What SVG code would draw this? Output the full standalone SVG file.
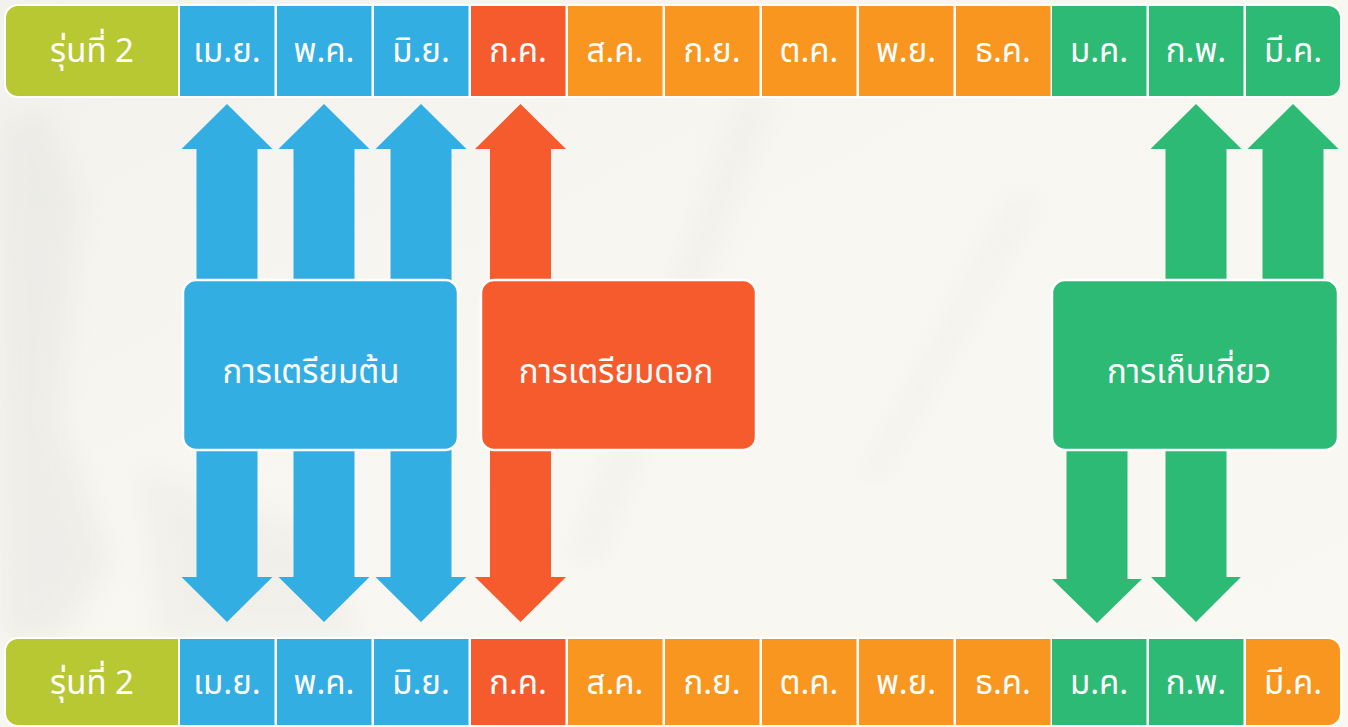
<svg xmlns="http://www.w3.org/2000/svg" width="1348" height="727" viewBox="0 0 1348 727">
  <style>
    .lbl { font-family: "Noto Sans Thai", "Noto Sans", "DejaVu Sans", sans-serif; fill: #ffffff; text-anchor: middle; font-weight: normal; }
    .m { font-size: 33px; }
    .b { font-size: 33px; }
    .olive { fill: #B8C833; }
    .blue { fill: #33AEE3; }
    .red { fill: #F55B2D; }
    .orange { fill: #F8961F; }
    .green { fill: #2DBA74; }
    .box { stroke: #ffffff; stroke-width: 2.5; }
  </style>
  <defs>
    <clipPath id="topClip"><rect x="6" y="6" width="1334" height="90" rx="12"/></clipPath>
    <clipPath id="botClip"><rect x="6" y="639" width="1334" height="86" rx="12"/></clipPath>
    <filter id="blur" x="-50%" y="-50%" width="200%" height="200%"><feGaussianBlur stdDeviation="12"/></filter>
    <linearGradient id="bg" x1="0" y1="0" x2="1" y2="1">
      <stop offset="0" stop-color="#F2F1ED"/>
      <stop offset="0.4" stop-color="#F8F6F1"/>
      <stop offset="1" stop-color="#FAF8F3"/>
    </linearGradient>
  </defs>

  <!-- background -->
  <rect x="0" y="0" width="1348" height="727" fill="url(#bg)"/>
  <g filter="url(#blur)" opacity="0.4">
    <path d="M0 120 L50 110 L80 200 L60 420 L110 560 L60 640 L0 640 Z" fill="#E2E2DE"/>
    <path d="M140 470 L320 530 L360 640 L160 640 Z" fill="#E6E7E1"/>
    <path d="M740 90 L780 90 L600 560 L570 560 Z" fill="#ECEAE5"/>
    <path d="M1010 200 L1040 200 L880 480 L860 480 Z" fill="#ECEAE5"/>
  </g>

  <!-- connectors -->
  <g id="connectors">
    <polygon class="blue" points="227,104 272.5,149 257.5,149 257.5,282 196.5,282 196.5,149 181.5,149"/>
    <polygon class="blue" points="324,104 369.5,149 354.5,149 354.5,282 293.5,282 293.5,149 278.5,149"/>
    <polygon class="blue" points="421,104 466.5,149 451.5,149 451.5,282 390.5,282 390.5,149 375.5,149"/>
    <polygon class="red" points="520.5,104 566,149 551,149 551,282 490,282 490,149 475,149"/>
    <polygon class="green" points="1196,104 1241.5,149 1226.5,149 1226.5,282 1165.5,282 1165.5,149 1150.5,149"/>
    <polygon class="green" points="1293,104 1338.5,149 1323.5,149 1323.5,282 1262.5,282 1262.5,149 1247.5,149"/>
    <polygon class="blue" points="196.5,448 257.5,448 257.5,577 272.5,577 227,622 181.5,577 196.5,577"/>
    <polygon class="blue" points="293.5,448 354.5,448 354.5,577 369.5,577 324,622 278.5,577 293.5,577"/>
    <polygon class="blue" points="390.5,448 451.5,448 451.5,577 466.5,577 421,622 375.5,577 390.5,577"/>
    <polygon class="red" points="490,448 551,448 551,577 566,577 520.5,622 475,577 490,577"/>
    <polygon class="green" points="1066.5,448 1127.5,448 1127.5,579 1142,579 1097,623 1052,579 1066.5,579"/>
    <polygon class="green" points="1165.5,448 1226.5,448 1226.5,577 1241,577 1196,622 1151,577 1165.5,577"/>
  </g>

  <!-- top bar -->
  <g id="top-bar">
    <rect x="4" y="4" width="1338" height="94" rx="14" fill="#ffffff"/>
    <g clip-path="url(#topClip)">
      <rect class="olive" x="6" y="6" width="172" height="90"/>
      <rect class="blue" x="180" y="6" width="94.5" height="90"/>
      <rect class="blue" x="277" y="6" width="94.5" height="90"/>
      <rect class="blue" x="374" y="6" width="94.5" height="90"/>
      <rect class="red" x="471" y="6" width="94.5" height="90"/>
      <rect class="orange" x="568" y="6" width="94.5" height="90"/>
      <rect class="orange" x="665" y="6" width="94.5" height="90"/>
      <rect class="orange" x="762" y="6" width="94.5" height="90"/>
      <rect class="orange" x="859" y="6" width="94.5" height="90"/>
      <rect class="orange" x="956" y="6" width="94.5" height="90"/>
      <rect class="green" x="1052" y="6" width="94.5" height="90"/>
      <rect class="green" x="1149" y="6" width="94.5" height="90"/>
      <rect class="green" x="1246" y="6" width="96" height="90"/>
    </g>
    <g class="lbl m">
      <text x="92" y="62">รุ่นที่ 2</text>
      <text x="227" y="62">เม.ย.</text>
      <text x="324" y="62">พ.ค.</text>
      <text x="421" y="62">มิ.ย.</text>
      <text x="518" y="62">ก.ค.</text>
      <text x="615" y="62">ส.ค.</text>
      <text x="712" y="62">ก.ย.</text>
      <text x="809" y="62">ต.ค.</text>
      <text x="906" y="62">พ.ย.</text>
      <text x="1003" y="62">ธ.ค.</text>
      <text x="1099" y="62">ม.ค.</text>
      <text x="1196" y="62">ก.พ.</text>
      <text x="1293" y="62">มี.ค.</text>
    </g>
  </g>

  <!-- bottom bar -->
  <g id="bottom-bar">
    <rect x="4" y="637" width="1338" height="90" rx="14" fill="#ffffff"/>
    <g clip-path="url(#botClip)">
      <rect class="olive" x="6" y="639" width="172" height="86"/>
      <rect class="blue" x="180" y="639" width="94.5" height="86"/>
      <rect class="blue" x="277" y="639" width="94.5" height="86"/>
      <rect class="blue" x="374" y="639" width="94.5" height="86"/>
      <rect class="red" x="471" y="639" width="94.5" height="86"/>
      <rect class="orange" x="568" y="639" width="94.5" height="86"/>
      <rect class="orange" x="665" y="639" width="94.5" height="86"/>
      <rect class="orange" x="762" y="639" width="94.5" height="86"/>
      <rect class="orange" x="859" y="639" width="94.5" height="86"/>
      <rect class="orange" x="956" y="639" width="94.5" height="86"/>
      <rect class="green" x="1052" y="639" width="94.5" height="86"/>
      <rect class="green" x="1149" y="639" width="94.5" height="86"/>
      <rect class="orange" x="1246" y="639" width="96" height="86"/>
    </g>
    <g class="lbl m">
      <text x="92" y="694">รุ่นที่ 2</text>
      <text x="227" y="694">เม.ย.</text>
      <text x="324" y="694">พ.ค.</text>
      <text x="421" y="694">มิ.ย.</text>
      <text x="518" y="694">ก.ค.</text>
      <text x="615" y="694">ส.ค.</text>
      <text x="712" y="694">ก.ย.</text>
      <text x="809" y="694">ต.ค.</text>
      <text x="906" y="694">พ.ย.</text>
      <text x="1003" y="694">ธ.ค.</text>
      <text x="1099" y="694">ม.ค.</text>
      <text x="1196" y="694">ก.พ.</text>
      <text x="1293" y="694">มี.ค.</text>
    </g>
  </g>

  <!-- nodes -->
  <g id="node-prep-plant">
    <rect class="blue box" x="183" y="280" width="275" height="170" rx="13"/>
    <text class="lbl b" x="311" y="383">การเตรียมต้น</text>
  </g>
  <g id="node-prep-flower">
    <rect class="red box" x="481" y="280" width="275" height="170" rx="13"/>
    <text class="lbl b" x="616" y="383">การเตรียมดอก</text>
  </g>
  <g id="node-harvest">
    <rect class="green box" x="1052" y="280" width="286" height="170" rx="13"/>
    <text class="lbl b" x="1189" y="383">การเก็บเกี่ยว</text>
  </g>
</svg>
